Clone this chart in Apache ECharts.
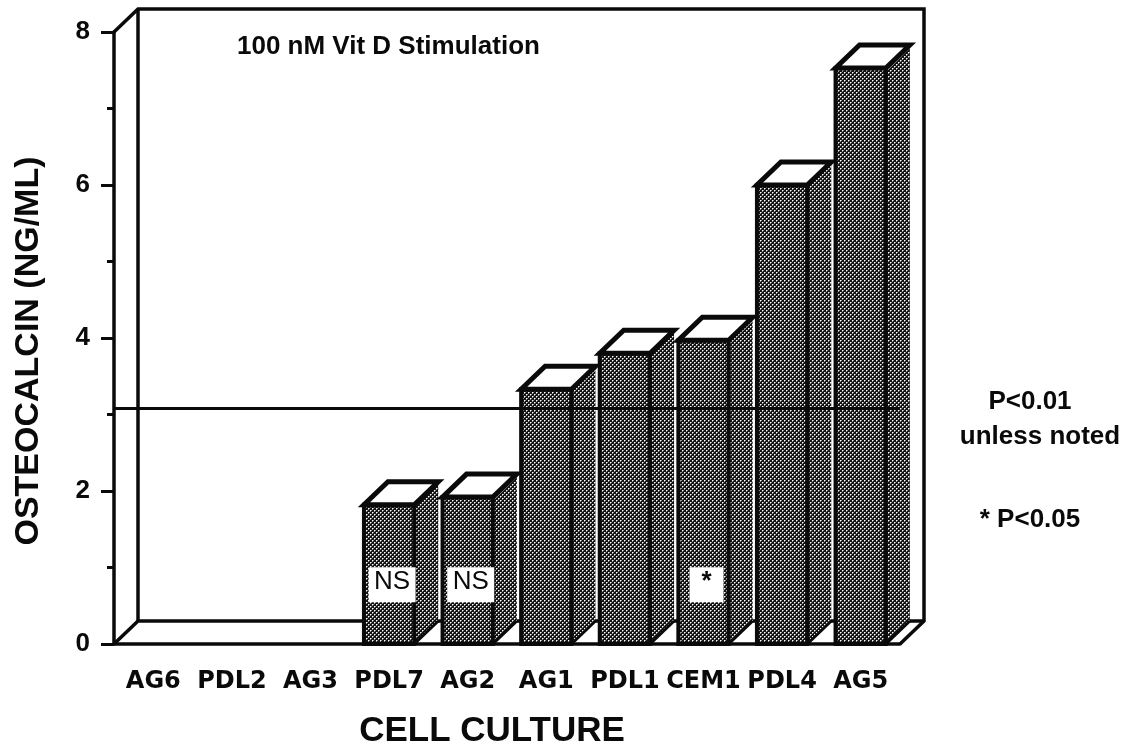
<!DOCTYPE html>
<html>
<head>
<meta charset="utf-8">
<title>Osteocalcin</title>
<script src="https://cdn.jsdelivr.net/npm/echarts@6/dist/echarts.min.js"></script>
<style>
html, body { margin: 0; background: #fff; }
#chart { width: 1139px; height: 755px; }
</style>
</head>
<body>
<div id="chart"></div>
<script>
// values
const categories = ['AG6', 'PDL2', 'AG3', 'PDL7', 'AG2', 'AG1', 'PDL1', 'CEM1', 'PDL4', 'AG5'];
const osteocalcin = [0, 0, 0, 1.82, 1.92, 3.33, 3.8, 3.97, 6.0, 7.53];
const barNotes = ['', '', '', 'NS', 'NS', '', '', '*', '', ''];
const noteHeight = [0.78, 0.78, 0.78, 0.78, 0.78, 0.78, 0.78, 0.78, 0.78, 0.78];
const significanceLine = 3.08;

const FONT = '"Liberation Sans", Arial, sans-serif';
const INK = '#0a0a0a';
// depth of the fake 3D box
const DX = 24;
const DY = -23;

// dotted screen used on the bars
function makeScreen() {
	const c = document.createElement('canvas');
	c.width = 4;
	c.height = 4;
	const ctx = c.getContext('2d');
	ctx.fillStyle = '#141414';
	ctx.fillRect(0, 0, 4, 4);
	[[0, 0], [2, 2]].forEach(function (p) {
		ctx.fillStyle = '#909090';
		ctx.fillRect(p[0] + 1, p[1], 1, 1);
		ctx.fillRect(p[0], p[1] + 1, 1, 1);
		ctx.fillStyle = '#ffffff';
		ctx.fillRect(p[0], p[1], 1, 1);
	});
	return c;
}
const screen = { image: makeScreen(), repeat: 'repeat' };

function renderFrame(params, api) {
	const g = params.coordSys;
	const l = g.x, r = g.x + g.width, t = g.y, b = g.y + g.height;
	const line = { stroke: INK, lineWidth: 3.5, fill: 'none' };
	return {
		type: 'group',
		children: [
			{ type: 'polyline', shape: { points: [[l, t], [l + DX, t + DY], [r + DX, t + DY], [r + DX, b + DY], [r, b]] }, style: line },
			{ type: 'polyline', shape: { points: [[l, b], [l + DX, b + DY], [r + DX, b + DY]] }, style: line },
			{ type: 'line', shape: { x1: l + DX, y1: t + DY, x2: l + DX, y2: b + DY }, style: line }
		]
	};
}

function renderBar(params, api) {
	const val = api.value(1);
	if (!val) return;
	const band = api.size([1, 0])[0];
	const base = api.coord([api.value(0), 0]);
	const top = api.coord([api.value(0), val]);
	const x0 = base[0] - band * 0.32;
	const x1 = base[0] + band * 0.32;
	const edge = { stroke: INK, lineWidth: 5, lineJoin: 'miter' };
	return {
		type: 'group',
		children: [
			{
				type: 'polygon',
				shape: { points: [[x1, base[1]], [x1 + DX, base[1] + DY], [x1 + DX, top[1] + DY], [x1, top[1]]] },
				style: { fill: screen }
			},
			{
				type: 'line',
				shape: { x1: x1, y1: base[1], x2: x1 + DX, y2: base[1] + DY },
				style: { stroke: INK, lineWidth: 3 }
			},
			{
				type: 'polygon',
				shape: { points: [[x0, base[1]], [x1, base[1]], [x1, top[1]], [x0, top[1]]] },
				style: Object.assign({ fill: screen }, edge, { lineWidth: 4 })
			},
			{
				type: 'polygon',
				shape: { points: [[x0, top[1]], [x1, top[1]], [x1 + DX, top[1] + DY], [x0 + DX, top[1] + DY]] },
				style: Object.assign({ fill: '#fff' }, edge)
			}
		]
	};
}

function renderNote(params, api) {
	const note = barNotes[params.dataIndex];
	if (!note) return;
	const p = api.coord([api.value(0), api.value(1)]);
	const w = note === '*' ? 34 : 47;
	const cx = p[0] + 3;
	return {
		type: 'group',
		children: [
			{ type: 'rect', shape: { x: cx - w / 2, y: p[1] - 17, width: w, height: 35 }, style: { fill: '#fff' } },
			{
				type: 'text',
				x: cx,
				y: p[1] - 3,
				style: {
					text: note,
					fill: INK,
					font: (note === '*' ? 'bold ' : '') + '26px ' + FONT,
					align: 'center',
					verticalAlign: 'middle'
				}
			}
		]
	};
}

const chart = echarts.init(document.getElementById('chart'), null, { renderer: 'canvas' });

chart.setOption({
	animation: false,
	backgroundColor: '#fff',
	grid: { left: 114, top: 32, width: 786, height: 612 },
	xAxis: {
		type: 'category',
		data: categories,
		name: 'CELL CULTURE',
		nameLocation: 'middle',
		nameGap: 70,
		nameTextStyle: { fontFamily: FONT, fontWeight: 'bold', fontSize: 35, color: INK, padding: [0, 30, 0, 0] },
		axisLine: { lineStyle: { color: INK, width: 3.5 } },
		axisTick: { length: 7, lineStyle: { color: INK, width: 3 } },
		axisLabel: { fontFamily: '"DejaVu Sans", sans-serif', fontWeight: 'bold', fontSize: 24, color: INK, margin: 26, interval: 0 }
	},
	yAxis: {
		type: 'value',
		min: 0,
		max: 8,
		interval: 2,
		name: 'OSTEOCALCIN (NG/ML)',
		nameLocation: 'middle',
		nameGap: 68,
		nameTextStyle: { fontFamily: FONT, fontWeight: 'bold', fontSize: 34, color: INK, padding: [0, 26, 0, 0] },
		axisLine: { show: true, lineStyle: { color: INK, width: 3.5 } },
		axisTick: { show: true, length: 13, lineStyle: { color: INK, width: 3 } },
		minorTick: { show: true, splitNumber: 2, length: 7, lineStyle: { color: INK, width: 3 } },
		axisLabel: { fontFamily: FONT, fontWeight: 'bold', fontSize: 26, color: INK, margin: 24 },
		splitLine: { show: false }
	},
	series: [
		{
			type: 'custom',
			name: 'frame',
			renderItem: renderFrame,
			data: [[0, 0]],
			silent: true,
			z: 1
		},
		{
			type: 'custom',
			name: 'Osteocalcin',
			renderItem: renderBar,
			data: osteocalcin.map((v, i) => [i, v]),
			clip: false,
			z: 2,
			markLine: {
				silent: true,
				symbol: 'none',
				label: { show: false },
				lineStyle: { color: INK, width: 3, type: 'solid' },
				data: [{ yAxis: significanceLine }]
			}
		},
		{
			type: 'custom',
			name: 'notes',
			renderItem: renderNote,
			data: noteHeight.map((v, i) => [i, v]),
			z: 3
		}
	],
	graphic: [
		{ type: 'text', x: 237, y: 47, style: { text: '100 nM Vit D Stimulation', fill: INK, font: 'bold 26px ' + FONT, verticalAlign: 'middle' } },
		{ type: 'text', x: 1030, y: 402, style: { text: 'P<0.01', fill: INK, font: 'bold 26px ' + FONT, align: 'center', verticalAlign: 'middle' } },
		{ type: 'text', x: 1040, y: 437, style: { text: 'unless noted', fill: INK, font: 'bold 26px ' + FONT, align: 'center', verticalAlign: 'middle' } },
		{ type: 'text', x: 1030, y: 520, style: { text: '* P<0.05', fill: INK, font: 'bold 26px ' + FONT, align: 'center', verticalAlign: 'middle' } }
	]
});
</script>
</body>
</html>
